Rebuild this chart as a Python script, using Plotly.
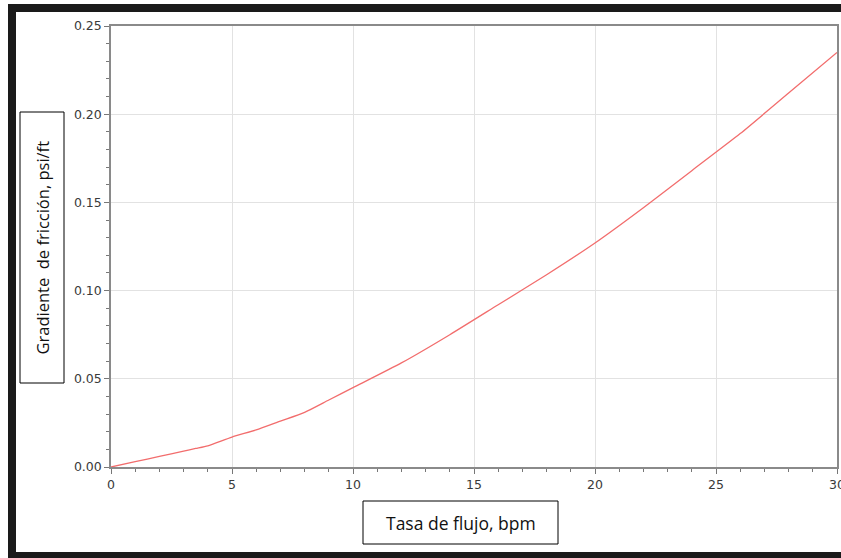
import plotly.graph_objects as go

# Data
flow_rate_bpm = [0, 1, 2, 3, 3.5, 4, 5, 6, 7, 8, 9, 10, 12, 14, 16, 18, 20, 22, 24, 26, 28, 30]
friction_gradient = [0.0, 0.003, 0.006, 0.009, 0.0105, 0.012, 0.017, 0.021, 0.026, 0.031, 0.038,
                     0.045, 0.059, 0.075, 0.092, 0.109, 0.127, 0.147, 0.168, 0.189, 0.212, 0.235]
x_tick_vals = [0, 5, 10, 15, 20, 25, 30]
y_tick_vals = [0.00, 0.05, 0.10, 0.15, 0.20, 0.25]
x_title = "Tasa de flujo, bpm"
y_title = "Gradiente  de fricción, psi/ft"

W, H = 841, 558
L, R, T, B = 111, 837, 26, 467


def xp(px):
    return (px - L) / (R - L)


def yp(py):
    return (B - py) / (B - T)


fig = go.Figure()
fig.add_trace(go.Scatter(x=flow_rate_bpm, y=friction_gradient, mode="lines",
                         line=dict(color="#f26d6d", width=1.3, shape="spline", smoothing=0.6),
                         showlegend=False, hoverinfo="x+y"))

axis_common = dict(
    showline=True, linecolor="#8a8a8a", linewidth=1.5, mirror=True,
    showgrid=True, gridcolor="#e2e2e2", gridwidth=1,
    zeroline=False, automargin=False,
    ticks="outside", ticklen=5, tickcolor="#777", tickwidth=1,
    ticklabeloverflow="allow",
    tickfont=dict(family="DejaVu Sans, Liberation Sans", size=12.5, color="#3a3a3a"),
)

fig.update_layout(
    width=W, height=H, autosize=False,
    margin=dict(l=L, r=W - R, t=T, b=H - B, autoexpand=False),
    paper_bgcolor="white", plot_bgcolor="white",
    xaxis=dict(range=[0, 30], tickvals=x_tick_vals, ticktext=[str(v) for v in x_tick_vals],
               minor=dict(dtick=1, ticks="outside", ticklen=3, tickcolor="#777", showgrid=False),
               **axis_common),
    yaxis=dict(range=[0, 0.25], tickvals=y_tick_vals, ticktext=[f"{v:.2f}" for v in y_tick_vals],
               minor=dict(dtick=0.01, ticks="outside", ticklen=3, tickcolor="#777", showgrid=False),
               **axis_common),
)

shapes = []
# black frame bands (top, left, bottom)
shapes.append(dict(type="rect", xref="paper", yref="paper", x0=xp(8), x1=xp(841), y0=yp(12), y1=yp(4),
                   fillcolor="#1a1a1a", line=dict(width=0), layer="above"))
shapes.append(dict(type="rect", xref="paper", yref="paper", x0=xp(8), x1=xp(16), y0=yp(558), y1=yp(4),
                   fillcolor="#1a1a1a", line=dict(width=0), layer="above"))
shapes.append(dict(type="rect", xref="paper", yref="paper", x0=xp(8), x1=xp(841), y0=yp(558), y1=yp(552),
                   fillcolor="#1a1a1a", line=dict(width=0), layer="above"))
# title boxes
shapes.append(dict(type="rect", xref="paper", yref="paper", x0=xp(20), x1=xp(64), y0=yp(383), y1=yp(112),
                   fillcolor="white", line=dict(color="black", width=1), layer="above"))
shapes.append(dict(type="rect", xref="paper", yref="paper", x0=xp(363), x1=xp(558), y0=yp(544), y1=yp(501),
                   fillcolor="white", line=dict(color="black", width=1), layer="above"))
fig.update_layout(shapes=shapes)

fig.add_annotation(x=xp(42), y=yp(247.5), xref="paper", yref="paper", text=y_title, textangle=-90,
                   showarrow=False, font=dict(family="Open Sans, Noto Sans", size=16.5, color="#111"),
                   xanchor="center", yanchor="middle")
fig.add_annotation(x=xp(460.5), y=yp(522.5), xref="paper", yref="paper", text=x_title,
                   showarrow=False, font=dict(family="Open Sans, Noto Sans", size=17.5, color="#111"),
                   xanchor="center", yanchor="middle")

fig.write_html("out.html", config={"displayModeBar": False},
               post_script="document.documentElement.style.overflow='hidden';"
                           "document.body.style.margin='0';document.body.style.overflow='hidden';"
                           "Plotly.relayout('{plot_id}', {width: 841, height: 558});")
